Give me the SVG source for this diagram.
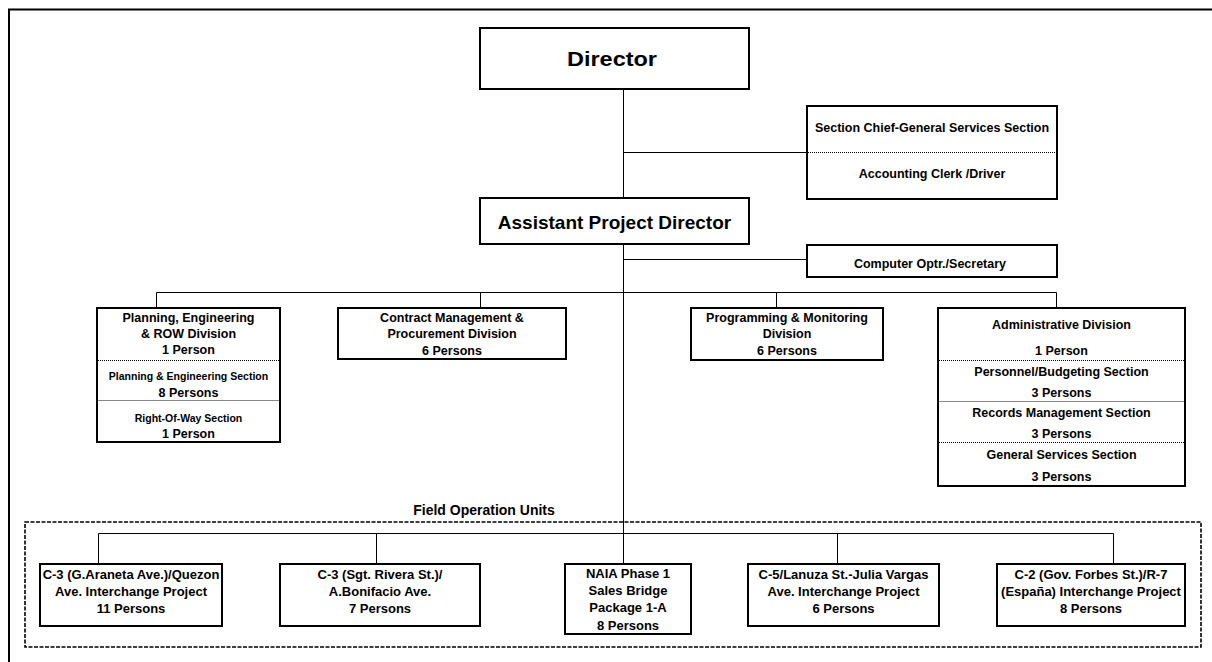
<svg xmlns="http://www.w3.org/2000/svg" width="1212" height="662" viewBox="0 0 1212 662">
<style>
.box{fill:#fff;stroke:#000;stroke-width:2}
.frame{fill:none;stroke:#000;stroke-width:2}
.con{fill:none;stroke:#000;stroke-width:1}
.dot{fill:none;stroke:#000;stroke-width:1;stroke-dasharray:1,1}
.thin{fill:none;stroke:#888;stroke-width:1}
.dash{fill:none;stroke:#000;stroke-width:1.6;stroke-dasharray:4,1.5}
text{font-family:"Liberation Sans",Arial,sans-serif;font-weight:bold;fill:#000;text-anchor:middle}
.t18{font-size:19px}
.t21{font-size:21px}
.t11{font-size:12.5px}
.t10{font-size:10.5px}
.t13{font-size:13px}
.t14{font-size:14px}
</style>
<rect width="1212" height="662" fill="#fff"/>
<rect class="frame" x="9" y="9.5" width="1220" height="670"/>
<g id="connectors">
<line class="con" x1="623.5" y1="89" x2="623.5" y2="564"/>
<line class="con" x1="623.5" y1="152.5" x2="807" y2="152.5"/>
<line class="con" x1="623.5" y1="259.5" x2="807" y2="259.5"/>
<polyline class="con" points="156.5,308 156.5,292.5 1056.5,292.5 1056.5,308"/>
<line class="con" x1="480.5" y1="292.5" x2="480.5" y2="308"/>
<line class="con" x1="776.5" y1="292.5" x2="776.5" y2="308"/>
<polyline class="con" points="98.5,564 98.5,533.5 1113.5,533.5 1113.5,564"/>
<line class="con" x1="376.5" y1="533.5" x2="376.5" y2="564"/>
<line class="con" x1="837.5" y1="533.5" x2="837.5" y2="564"/>
</g>
<g id="director">
<rect class="box" x="480" y="28" width="269" height="61"/>
<text class="t21" x="612" y="66" textLength="90" lengthAdjust="spacingAndGlyphs">Director</text>
</g>
<g id="section-chief">
<rect class="box" x="807" y="106" width="250" height="93"/>
<line class="dot" x1="808" y1="152.5" x2="1056" y2="152.5"/>
<text class="t11" x="932" y="132">Section Chief-General Services Section</text>
<text class="t11" x="932" y="178">Accounting Clerk /Driver</text>
</g>
<g id="apd">
<rect class="box" x="480" y="198" width="269" height="46"/>
<text class="t18" x="614.5" y="229">Assistant Project Director</text>
</g>
<g id="computer-optr">
<rect class="box" x="807" y="245" width="250" height="32"/>
<text class="t11" x="930" y="268">Computer Optr./Secretary</text>
</g>
<g id="planning">
<rect class="box" x="97" y="308" width="183" height="134"/>
<line class="dot" x1="98" y1="360.5" x2="279" y2="360.5"/>
<line class="thin" x1="98" y1="400.5" x2="279" y2="400.5"/>
<text class="t11" x="188.5" y="322">Planning, Engineering</text>
<text class="t11" x="188.5" y="338">&amp; ROW Division</text>
<text class="t11" x="188.5" y="354">1 Person</text>
<text class="t10" x="188.5" y="380">Planning &amp; Engineering Section</text>
<text class="t11" x="188.5" y="397">8 Persons</text>
<text class="t10" x="188.5" y="422">Right-Of-Way Section</text>
<text class="t11" x="188.5" y="438">1 Person</text>
</g>
<g id="contract">
<rect class="box" x="338" y="308" width="228" height="51"/>
<text class="t11" x="452" y="322">Contract Management &amp;</text>
<text class="t11" x="452" y="338">Procurement Division</text>
<text class="t11" x="452" y="355">6 Persons</text>
</g>
<g id="programming">
<rect class="box" x="691" y="308" width="192" height="52"/>
<text class="t11" x="787" y="322">Programming &amp; Monitoring</text>
<text class="t11" x="787" y="338">Division</text>
<text class="t11" x="787" y="355">6 Persons</text>
</g>
<g id="admin">
<rect class="box" x="938" y="308" width="247" height="178"/>
<line class="dot" x1="939" y1="360.5" x2="1184" y2="360.5"/>
<line class="thin" x1="939" y1="401.5" x2="1184" y2="401.5"/>
<line class="dot" x1="939" y1="442.5" x2="1184" y2="442.5"/>
<text class="t11" x="1061.5" y="329">Administrative Division</text>
<text class="t11" x="1061.5" y="355">1 Person</text>
<text class="t11" x="1061.5" y="376">Personnel/Budgeting Section</text>
<text class="t11" x="1061.5" y="397">3 Persons</text>
<text class="t11" x="1061.5" y="417">Records Management Section</text>
<text class="t11" x="1061.5" y="438">3 Persons</text>
<text class="t11" x="1061.5" y="459">General Services Section</text>
<text class="t11" x="1061.5" y="481">3 Persons</text>
</g>
<g id="field-units">
<rect class="dash" x="25" y="522" width="1176" height="125"/>
<text class="t14" x="484" y="515">Field Operation Units</text>
</g>
<g id="fou-c3-araneta">
<rect class="box" x="40" y="564" width="182" height="62"/>
<text class="t13" x="131" y="579">C-3 (G.Araneta Ave.)/Quezon</text>
<text class="t13" x="131" y="596">Ave. Interchange Project</text>
<text class="t13" x="131" y="613">11 Persons</text>
</g>
<g id="fou-c3-rivera">
<rect class="box" x="280" y="564" width="200" height="62"/>
<text class="t13" x="380" y="579">C-3 (Sgt. Rivera St.)/</text>
<text class="t13" x="380" y="596">A.Bonifacio Ave.</text>
<text class="t13" x="380" y="613">7 Persons</text>
</g>
<g id="fou-naia">
<rect class="box" x="565" y="564" width="126" height="70"/>
<text class="t13" x="628" y="578">NAIA Phase 1</text>
<text class="t13" x="628" y="595">Sales Bridge</text>
<text class="t13" x="628" y="612">Package 1-A</text>
<text class="t13" x="628" y="630">8 Persons</text>
</g>
<g id="fou-c5">
<rect class="box" x="748" y="564" width="191" height="62"/>
<text class="t13" x="843.5" y="579">C-5/Lanuza St.-Julia Vargas</text>
<text class="t13" x="843.5" y="596">Ave. Interchange Project</text>
<text class="t13" x="843.5" y="613">6 Persons</text>
</g>
<g id="fou-c2">
<rect class="box" x="997" y="564" width="188" height="62"/>
<text class="t13" x="1091" y="579">C-2 (Gov. Forbes St.)/R-7</text>
<text class="t13" x="1091" y="596">(España) Interchange Project</text>
<text class="t13" x="1091" y="613">8 Persons</text>
</g>
</svg>
